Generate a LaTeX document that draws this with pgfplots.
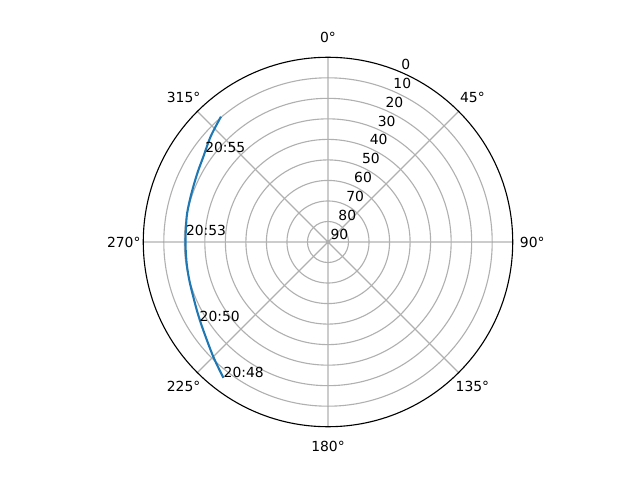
\documentclass[border=0pt]{standalone}
\usepackage{fontspec}
\setmainfont{DejaVu Sans}
\usepackage{pgfplots}
\pgfplotsset{compat=1.18}
\usepgfplotslibrary{polar}

\definecolor{mplblue}{RGB}{31,119,180}
\definecolor{mplgrid}{RGB}{176,176,176}

% pass track: (90 - azimuth, 90 - elevation), so north is up and east to the right
\pgfplotstableread{
th    r
130.5 80.30
138.0 76.90
145.6 73.60
151.5 72.10
157.7 70.95
163.8 70.30
169.8 69.94
180.0 69.44
188.6 69.64
195.5 70.10
202.1 70.85
208.5 72.30
215.2 74.40
225.0 79.04
232.4 83.52
}\passdata

\begin{document}
\begin{tikzpicture}
\begin{polaraxis}[
    scale only axis,
    width=266pt, height=266pt,
    xmin=0, xmax=360,
    ymin=0, ymax=90,
    xtick={0,45,...,315},
    ytick={10,20,...,80},
    xticklabels={}, yticklabels={},
    grid=major,
    major grid style={color=mplgrid, line width=0.8pt},
    x axis line style={line width=0.8pt, black},
    y axis line style={draw=none},
    major tick length=0pt,
    clip=false,
    every node/.append style={font=\fontsize{10}{12}\selectfont},
]
\addplot[mplblue, line width=1.5pt, smooth, mark=none] table[x=th, y=r] {\passdata};

\coordinate (c) at (axis cs:0,0);

% azimuth labels
\node at (axis cs:90,99.5)  {0°};
\node at (axis cs:45,99.5)  {45°};
\node at (axis cs:0,99.5)   {90°};
\node at (axis cs:315,99.5) {135°};
\node at (axis cs:270,99.5) {180°};
\node at (axis cs:225,99.5) {225°};
\node at (axis cs:180,99.5) {270°};
\node at (axis cs:135,99.5) {315°};

% elevation labels
\foreach \v/\rr in {0/90,10/80,20/70,30/60,40/50,50/40,60/30,70/20,80/10,90/0}{
  \edef\tmp{\noexpand\node[anchor=base west, inner sep=0pt, xshift=1.7pt, yshift=1.6pt] at (axis cs:67.5,\rr) {\v};}
  \tmp
}

% time marks along the track
\node[anchor=base west, inner sep=0pt] at (axis cs:144.0,74.07) {20:55};
\node[anchor=base west, inner sep=0pt] at (axis cs:177.2,69.4)  {20:53};
\node[anchor=base west, inner sep=0pt] at (axis cs:211.8,73.7)  {20:50};
\node[anchor=base west, inner sep=0pt] at (axis cs:232.4,83.52) {20:48};
\end{polaraxis}
\pgfresetboundingbox
\path[use as bounding box] ([shift={(-236.16pt,-171.36pt)}]c) rectangle ([shift={(224.64pt,174.24pt)}]c);
\end{tikzpicture}
\end{document}
